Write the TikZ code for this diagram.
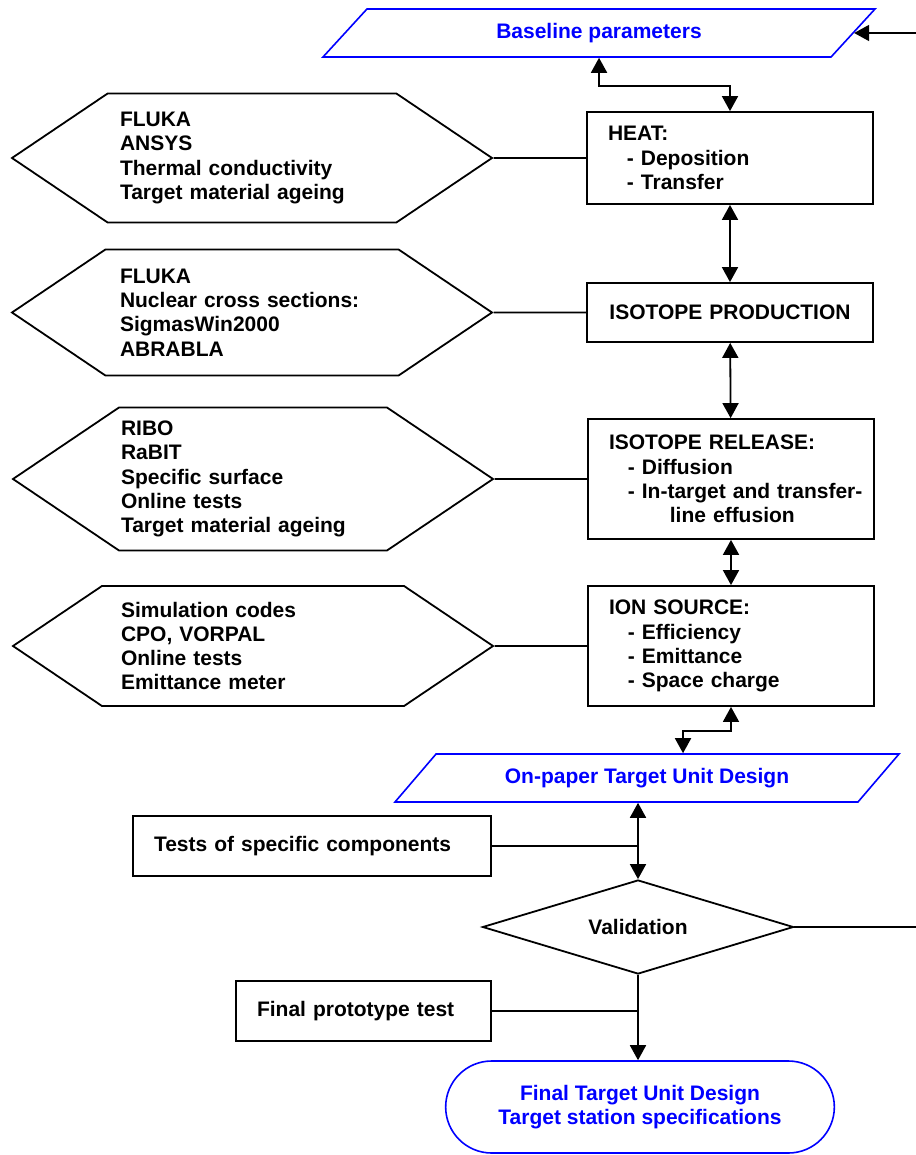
\documentclass[tikz,border=0pt]{standalone}
\usepackage{fontspec}
\setmainfont{Liberation Sans}
\usetikzlibrary{positioning}
\usetikzlibrary{shapes,arrows,arrows.meta}
\tikzset{
block/.style = {draw, fill=white, rectangle, line width=0.9pt, minimum width=143pt, text width=122pt, inner xsep=10.5pt, align=left},
hexa/.style = {draw, signal, signal to=west and east, signal pointer angle=68, line width=0.9pt, text width=132pt, inner sep=0pt, align=left, minimum width=240pt},
io/.style = {draw=blue, text=blue, trapezium, trapezium left angle=24, trapezium right angle=156, trapezium stretches body, line width=0.8pt, minimum height=24pt, inner sep=0pt},
decision/.style = {draw, diamond, aspect=3.3, minimum width=155.5pt, minimum height=47pt, inner sep=0pt, line width=0.9pt},
term/.style = {draw=blue, text=blue, rounded rectangle, line width=0.8pt, minimum width=201pt, minimum height=46pt, align=center},
line/.style = {line width=0.9pt}
}
\newcommand{\ind}{\hspace*{0.9em}}

\begin{document}
\begin{tikzpicture}[x=0.5pt, y=-0.5pt, node distance=239pt, >={Triangle[width=8pt,length=7.5pt]},
    font=\fontsize{10.5}{12.1}\selectfont\bfseries]
    \useasboundingbox (0,0) rectangle (915,1155);
    % the main column first
    \node at (599,33) [io, minimum width=276pt] (base) {Baseline parameters};
    \node at (730,158) [block, minimum height=46pt] (heat) {HEAT:\\\ind- Deposition\\\ind- Transfer};
    \node at (730,312.5) [block, minimum height=29.5pt, align=center] (prod) {ISOTOPE PRODUCTION};
    \node at (731,479) [block, minimum height=60pt] (release) {ISOTOPE RELEASE:\\\ind- Diffusion\\\mbox{\ind- In-target and transfer-}\\\hspace*{2.9em}line effusion};
    \node at (731,646) [block, minimum height=60pt] (ion) {ION SOURCE:\\\ind- Efficiency\\\ind- Emittance\\\ind- Space charge};
    \node at (647,778) [io, minimum width=252pt, trapezium left angle=25.6, trapezium right angle=154.4] (paper) {On-paper Target Unit Design};
    \node at (638,927) [decision] (valid) {Validation};
    \node at (640,1107) [term] (final) {Final Target Unit Design\\Target station specifications};

    % inputs on the left
    \node [hexa, left of=heat, minimum height=64.5pt] (hx1) {FLUKA\\ANSYS\\Thermal conductivity\\Target material ageing};
    \node [hexa, left of=prod, minimum height=63pt] (hx2) {FLUKA\\Nuclear cross sections:\\SigmasWin2000\\ABRABLA};
    \node [hexa, left of=release, minimum height=71.5pt] (hx3) {RIBO\\RaBIT\\Specific surface\\Online tests\\Target material ageing};
    \node [hexa, left of=ion, minimum height=60pt] (hx4) {Simulation codes\\CPO, VORPAL\\Online tests\\Emittance meter};
    \node at (312,846) [block, minimum width=179pt, text width=158pt, minimum height=30pt] (tests) {Tests of specific components};
    \node at (363.5,1011) [block, minimum width=127.5pt, text width=106.5pt, minimum height=30pt] (proto) {Final prototype test};

    % connections
    \draw [line, <->] (base.south) -- ++(0,28) -| (heat.north);
    \draw [line, <->] (heat) -- (prod);
    \draw [line, <->] (prod) -- (release);
    \draw [line, <->] (release) -- (ion);
    \draw [line, <->] (ion.south) -- ++(0,24) -| ([xshift=18pt]paper.north);
    \draw [line, <->] (valid.north |- paper.south) -- (valid.north);
    \draw [line, ->] (valid.south) -- (valid.south |- final.north);
    \draw [line, ->] (valid.east) -- ++(124,0) |- (base.east);
    \draw [line] (hx1) -- (heat);
    \draw [line] (hx2) -- (prod);
    \draw [line] (hx3) -- (release);
    \draw [line] (hx4) -- (ion);
    \draw [line] (tests.east) -- (tests.east -| valid.north);
    \draw [line] (proto.east) -- (proto.east -| valid.south);
\end{tikzpicture}
\end{document}
